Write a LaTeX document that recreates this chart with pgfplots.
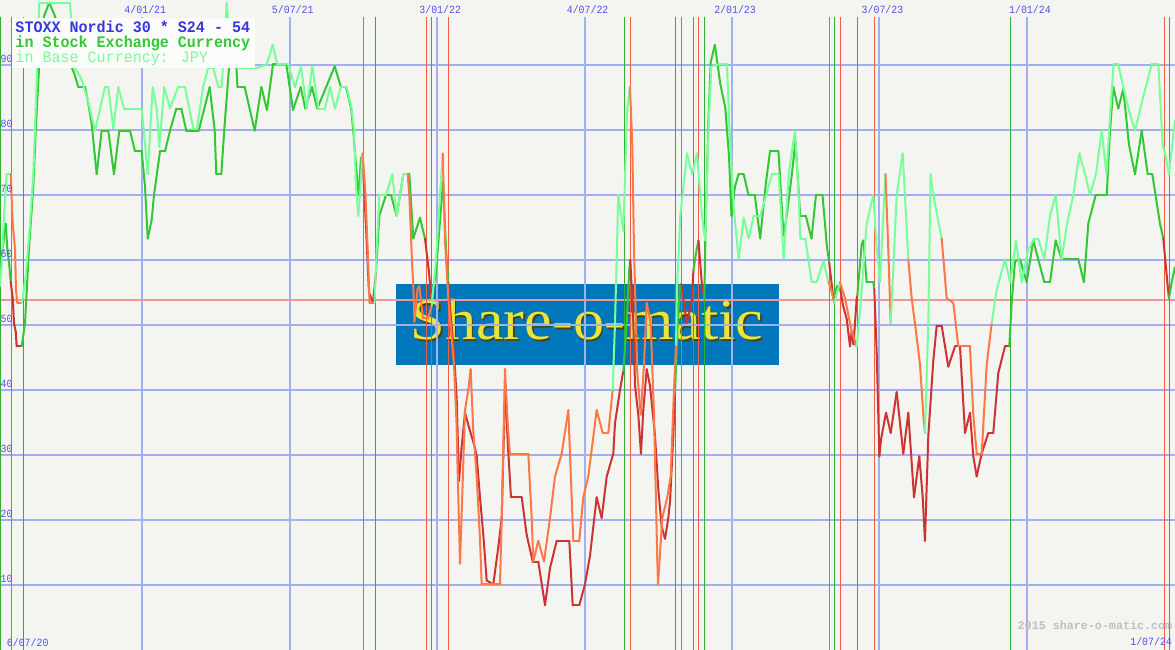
\documentclass[border=0pt]{standalone}
\usepackage{fontspec}
\setmainfont{Liberation Mono}
\newfontfamily\mono{Liberation Mono}
\newfontfamily\logofont{Liberation Serif}
\usepackage{pgfplots}
\usepackage{pgfplotstable}
\pgfplotsset{compat=1.18}
\definecolor{bg}{RGB}{244,245,241}
\definecolor{gridblue}{RGB}{160,176,240}
\definecolor{thresh}{RGB}{240,150,150}
\definecolor{siggreen}{RGB}{50,175,50}
\definecolor{sigred}{RGB}{240,95,65}
\definecolor{tickblue}{RGB}{80,80,240}
\definecolor{titleblue}{RGB}{55,55,225}
\definecolor{darkgr}{RGB}{51,200,51}
\definecolor{lightgr}{RGB}{119,255,153}
\definecolor{logobg}{RGB}{0,119,187}
\definecolor{logoyel}{RGB}{235,228,60}
\definecolor{logoshadow}{RGB}{70,70,20}
\definecolor{copygray}{RGB}{190,190,190}
\definecolor{titlebg}{RGB}{252,253,250}
\pgfplotsset{
  colormap={darkcm}{rgb255=(51,200,51) rgb255=(204,51,51)},
  colormap={lightcm}{rgb255=(119,255,153) rgb255=(255,119,68)}
}

% weekly data, x = weeks after 6/07/20, c = 1 while the series is in its sell (red) state
\pgfplotstableread{
w v c
0.91 58.5 0
1.39 61.7 0
1.92 65.6 0
2.20 61.7 0
2.55 59.2 0
2.80 56.6 1
3.15 54.1 1
3.38 50.3 1
3.68 49.0 1
3.85 46.7 1
4.74 46.7 0
5.32 50.3 0
6.02 61.7 0
6.78 71.3 0
7.26 80.9 0
7.79 89.5 0
8.67 97.5 0
9.60 99.6 0
10.61 97.5 0
11.84 93.0 0
12.90 91.0 0
13.96 88.8 0
14.72 86.6 0
15.90 86.6 0
16.48 84.1 0
17.08 80.9 0
17.96 73.2 0
18.84 79.9 0
20.01 79.9 0
21.01 73.2 0
21.95 79.9 0
23.83 79.9 0
24.72 76.7 0
25.90 76.7 0
26.48 71.3 0
26.96 63.3 0
27.66 66.2 0
28.07 70.0 0
29.12 76.7 0
30.01 76.7 0
30.89 79.9 0
32.00 83.3 0
32.88 83.3 0
33.76 79.9 0
35.95 79.9 0
37.89 86.6 0
38.77 79.9 0
39.05 73.2 0
39.93 73.2 0
40.53 80.9 0
41.29 89.5 0
41.82 93.5 0
42.35 93.5 0
42.79 86.6 0
44.06 86.6 0
45.82 79.9 0
46.99 86.6 0
47.99 83.1 0
49.05 90.1 0
51.40 90.1 0
52.58 83.1 0
53.94 86.6 0
54.75 83.3 0
55.93 86.6 0
56.86 83.3 0
59.93 89.8 0
61.04 86.6 0
61.92 86.6 0
62.81 83.4 0
63.21 79.9 0
63.69 74.5 0
64.16 70.0 0
64.57 75.8 0
64.92 74.5 1
65.45 65.0 1
65.98 55.0 1
66.68 53.5 1
67.21 58.0 0
67.80 66.8 0
68.98 70.0 0
69.86 70.0 0
70.86 66.8 0
72.03 73.2 0
73.09 73.2 0
73.79 63.3 0
74.97 66.5 0
75.85 63.3 1
76.51 58.5 1
77.00 54.0 0
77.79 58.0 0
78.50 66.0 0
79.03 72.0 0
79.56 62.0 0
79.96 56.6 1
80.39 51.5 1
80.97 45.8 1
81.44 38.8 1
81.85 26.0 1
82.29 31.0 1
82.91 36.5 1
83.79 33.7 1
84.67 31.1 1
84.97 29.8 1
85.55 23.5 1
86.14 17.7 1
86.73 10.7 1
87.90 10.1 1
88.78 15.8 1
89.38 20.3 1
89.96 39.7 1
90.54 30.5 1
91.02 23.5 1
92.91 23.5 1
93.79 17.7 1
94.85 13.6 1
95.83 13.6 1
97.02 6.9 1
97.90 12.6 1
99.08 16.8 1
101.30 16.8 1
101.90 6.9 1
103.06 6.9 1
104.07 10.1 1
104.95 14.5 1
106.13 23.5 1
107.01 20.3 1
107.90 26.7 1
109.06 30.2 1
109.36 34.9 1
110.24 40.0 1
110.82 42.9 0
111.42 50.3 0
111.88 58.5 0
112.06 60.0 1
112.59 50.3 1
112.89 40.7 1
113.47 36.2 1
113.94 30.2 1
114.35 36.9 1
114.95 43.2 1
115.53 40.7 1
116.41 33.0 1
117.00 24.7 1
117.59 19.0 1
118.18 17.1 1
118.76 20.3 1
119.06 22.8 1
119.64 33.0 1
119.94 39.4 0
120.35 49.0 0
120.82 56.0 0
121.05 56.3 1
122.00 50.3 1
122.88 53.4 1
123.20 58.5 0
123.77 61.7 0
124.08 63.0 1
124.65 56.6 1
125.11 54.1 0
125.32 64.3 0
125.81 80.9 0
126.24 90.4 0
126.96 93.1 0
127.91 87.2 0
128.81 83.4 0
129.46 76.0 0
129.90 66.8 0
130.52 71.3 0
131.14 73.2 0
132.05 73.2 0
132.90 70.0 0
134.01 70.0 0
134.96 63.3 0
135.99 72.0 0
136.69 76.7 0
138.19 76.7 0
139.07 63.8 0
139.64 66.8 0
140.52 73.0 0
141.19 78.3 0
142.02 66.8 0
143.01 66.8 0
144.01 63.3 0
144.80 70.0 0
145.95 70.0 0
146.74 62.0 0
147.15 59.5 1
147.85 54.1 1
148.03 54.5 0
148.51 56.0 0
149.09 55.5 1
149.57 53.0 1
150.22 50.9 1
150.80 46.7 1
151.10 49.0 1
151.42 47.0 1
151.98 54.1 1
152.09 54.5 0
152.86 62.4 0
153.14 63.0 0
153.74 56.6 0
154.91 56.6 0
155.08 55.5 1
155.51 45.8 1
155.97 29.8 1
156.27 32.4 1
157.15 36.5 1
157.98 33.4 1
159.03 39.7 1
160.20 30.2 1
161.08 36.5 1
162.09 23.5 1
163.02 29.8 1
163.62 23.5 1
164.02 16.8 1
164.61 33.0 1
165.49 44.5 1
166.09 49.9 1
166.97 49.9 1
168.13 43.6 1
169.32 46.7 1
170.20 46.7 1
171.08 33.4 1
171.96 36.5 1
172.54 29.8 1
173.14 26.7 1
174.02 30.2 1
175.19 33.4 1
176.07 33.4 1
176.95 42.6 1
178.13 46.7 1
178.89 46.7 0
179.31 53.4 0
179.90 59.8 0
180.78 60.1 0
181.96 56.6 0
183.12 63.0 0
185.06 56.6 0
186.07 56.6 0
187.07 63.0 0
188.13 60.1 0
191.06 60.1 0
192.06 56.6 0
192.82 65.6 0
194.13 70.0 0
196.07 70.0 0
196.65 79.9 0
197.23 86.6 0
198.11 83.3 0
198.99 86.3 0
200.00 77.7 0
201.06 73.2 0
202.24 79.9 0
203.30 73.2 0
204.11 73.2 0
205.46 65.6 0
206.05 63.3 1
206.82 56.0 1
207.05 54.1 0
207.53 56.6 0
208.11 58.9 0
}\darkdata

\pgfplotstableread{
w v c
0.91 56.0 0
1.26 60.0 0
1.62 66.8 0
2.09 73.2 0
2.80 73.2 1
3.15 65.6 1
3.56 61.7 1
3.73 55.4 1
3.96 53.4 1
4.74 53.4 0
4.91 54.1 0
5.49 57.9 0
6.20 65.6 0
6.78 73.2 0
7.38 87.2 0
7.84 99.6 0
13.25 99.6 0
14.14 89.5 0
15.19 88.0 0
16.43 84.5 0
17.66 79.9 0
19.43 86.6 0
20.01 86.6 0
20.89 80.2 0
21.77 86.6 0
22.78 83.3 0
25.90 83.3 0
26.96 73.2 0
27.84 86.6 0
28.54 83.4 0
29.00 77.4 0
29.88 86.6 0
30.89 83.3 0
32.30 86.6 0
33.53 86.6 0
35.00 80.2 0
35.65 80.2 0
36.71 86.6 0
37.59 89.5 0
38.52 89.5 0
39.41 86.6 0
40.00 86.6 0
40.89 99.6 0
41.47 93.6 0
42.00 90.0 0
43.23 89.5 0
46.18 89.5 0
47.94 90.1 0
48.99 93.1 0
49.81 90.1 0
51.75 90.1 0
52.93 86.6 0
53.99 89.8 0
54.99 83.3 0
55.98 89.8 0
57.04 83.3 0
58.22 83.3 0
59.10 86.6 0
59.98 83.3 0
60.99 86.6 0
62.05 86.6 0
62.93 83.3 0
63.33 79.9 0
63.69 71.3 0
64.09 66.8 0
64.39 70.0 0
64.83 76.4 1
65.10 73.5 1
65.36 70.0 1
65.75 61.7 1
66.07 53.4 1
66.95 53.4 0
67.34 61.7 0
67.80 70.0 0
68.98 70.0 0
70.09 73.2 0
70.86 66.8 0
72.03 73.2 0
72.80 73.2 1
73.09 70.0 1
73.56 59.8 1
73.79 56.0 1
74.00 50.5 1
74.53 55.5 1
74.85 56.0 1
75.50 51.0 1
76.38 51.0 1
77.04 53.0 0
77.79 60.0 0
78.50 70.0 0
78.98 76.4 1
79.38 63.0 1
79.96 54.1 1
80.97 43.9 1
81.41 35.0 1
81.73 23.5 1
82.03 13.3 1
82.47 25.0 1
82.91 36.9 1
83.49 40.0 1
83.91 43.2 1
84.37 33.7 1
84.97 26.7 1
85.55 17.1 1
85.85 10.1 1
89.08 10.1 1
89.38 20.3 1
89.96 43.2 1
90.49 34.0 1
90.84 30.2 1
94.07 30.2 1
94.67 20.3 1
94.95 13.6 1
95.83 16.8 1
96.84 13.6 1
97.90 20.3 1
98.78 26.7 1
99.96 30.2 1
101.13 36.9 1
101.72 23.5 1
102.01 16.8 1
103.06 16.8 1
103.77 23.5 1
104.65 26.7 1
106.13 36.9 1
107.19 33.4 1
108.18 33.4 1
108.95 40.0 0
109.36 50.3 0
109.94 70.0 0
110.82 64.5 0
111.53 83.4 0
112.00 86.6 1
112.41 77.7 1
112.71 61.7 1
113.29 42.6 1
113.89 36.2 1
114.47 43.9 1
114.95 53.4 1
115.65 50.3 1
116.24 36.2 1
116.82 13.9 1
116.94 10.1 1
117.70 20.3 1
118.58 23.5 1
119.18 26.7 1
119.76 40.0 1
120.12 47.0 0
120.29 55.4 0
120.87 66.8 0
122.06 76.4 0
122.94 73.2 0
123.82 76.4 0
124.70 66.8 0
125.28 63.0 0
125.88 80.9 0
126.34 89.8 0
127.64 90.1 0
129.11 90.1 0
129.51 80.9 0
130.29 68.1 0
131.17 60.1 0
132.05 66.5 0
132.93 63.3 0
133.82 66.8 0
134.98 66.8 0
137.04 73.2 0
138.23 73.2 0
139.11 60.1 0
139.99 73.2 0
141.10 79.9 0
141.75 70.0 0
142.04 63.3 0
142.92 63.3 0
144.04 56.6 0
144.93 56.6 0
146.12 59.8 0
147.01 56.6 1
147.62 55.0 1
148.03 53.4 0
149.04 56.6 1
149.92 54.1 1
151.10 49.0 1
151.98 46.7 0
152.74 54.0 0
153.74 65.6 0
154.91 70.0 0
155.51 61.7 0
156.09 56.6 0
156.62 66.0 0
157.06 73.2 1
157.55 61.7 1
157.98 50.3 0
159.03 70.0 0
160.09 76.4 0
161.08 60.1 1
161.68 54.1 1
162.44 49.0 1
163.14 43.9 1
163.73 36.2 1
164.02 33.4 0
164.61 50.3 0
165.00 73.2 0
165.49 70.0 0
166.97 63.3 1
167.85 54.1 1
169.02 53.4 1
169.90 46.7 1
171.96 46.7 1
172.54 36.2 1
173.14 30.2 1
174.02 30.2 1
174.91 43.9 1
175.79 50.3 0
176.67 55.4 0
178.13 60.1 0
179.02 56.6 0
180.07 63.0 0
181.08 56.6 0
182.19 61.5 0
183.30 63.3 0
184.00 63.3 0
185.06 60.1 0
186.07 66.8 0
187.07 70.0 0
188.13 60.1 0
189.07 65.6 0
190.18 70.0 0
191.24 76.4 0
192.24 73.2 0
193.12 70.0 0
194.18 73.2 0
195.18 79.9 0
196.03 73.2 0
196.65 82.0 0
197.27 90.1 0
198.11 90.1 0
198.99 86.6 0
200.00 83.0 0
201.06 79.9 0
202.47 85.0 0
204.00 90.1 0
205.17 90.1 0
205.94 77.7 0
206.35 76.4 0
207.05 73.2 0
208.11 81.5 0
}\lightdata

\tikzset{
  ticklab/.style={inner sep=0pt, text=tickblue, xscale=0.9, font=\mono\fontsize{11}{11}\selectfont},
  titlelab/.style={anchor=base west, inner sep=0pt, xscale=0.94, font=\mono\bfseries\fontsize{16}{16}\selectfont}
}

\begin{document}
\begin{tikzpicture}[x=1pt,y=1pt]
\path[use as bounding box] (0,0) rectangle (1175,650);
\fill[bg] (0,0) rectangle (1175,650);
\begin{axis}[at={(0,0)}, anchor=south west,
  width=1175pt, height=650pt, scale only axis,
  xmin=0.91, xmax=208.11, ymin=0, ymax=100,
  axis lines=none, no markers, clip=true]
% logo
\fill[logobg] (axis cs:70.74,43.85) rectangle (axis cs:138.28,56.31);
\node[anchor=base, text=logoshadow, xscale=1.075, font=\logofont\fontsize{58}{58}\selectfont] at (axis cs:104.72,47.45) {Share-o-matic};
\node[anchor=base, text=logoyel, xscale=1.075, font=\logofont\fontsize{58}{58}\selectfont] at (axis cs:104.42,47.7) {Share-o-matic};
% horizontal grid
\pgfplotsinvokeforeach{10,20,30,40,50,60,70,80,90}{
  \addplot[gridblue, line width=2pt] coordinates {(0.91,#1) (208.11,#1)};
}
% vertical grid
\pgfplotsinvokeforeach{26,52,78,104,130,156,182}{
  \addplot[gridblue, line width=2pt] coordinates {(#1,0) (#1,97.46)};
}
% threshold
\addplot[thresh, line width=2pt] coordinates {(0.91,53.8) (208.11,53.8)};
% signals
\pgfplotsinvokeforeach{1.03,5.02,67.16,77.04,111.00,120.00,123.20,125.11,148.03,152.09,179.07,207.10}{
  \addplot[siggreen, line width=1pt] coordinates {(#1,0) (#1,97.46)};
}
\pgfplotsinvokeforeach{2.97,64.98,76.12,79.96,112.06,121.05,124.08,147.15,149.09,155.08,206.22}{
  \addplot[sigred, line width=1pt] coordinates {(#1,0) (#1,97.46)};
}
% series
\addplot[mesh, shader=flat corner, colormap name=darkcm, point meta=explicit,
  point meta min=0, point meta max=1, line width=2pt, line cap=round]
  table[x=w, y=v, meta=c] {\darkdata};
\addplot[mesh, shader=flat corner, colormap name=lightcm, point meta=explicit,
  point meta min=0, point meta max=1, line width=2pt, line cap=round]
  table[x=w, y=v, meta=c] {\lightdata};
% tick labels
\pgfplotsinvokeforeach{10,20,30,40,50,60,70,80,90}{
  \node[ticklab, anchor=base west] at (axis cs:1.0,#1+0.43) {#1};
}
\node[ticklab, anchor=base] at (axis cs:26.53,97.95) {4/01/21};
\node[ticklab, anchor=base] at (axis cs:52.53,97.95) {5/07/21};
\node[ticklab, anchor=base] at (axis cs:78.53,97.95) {3/01/22};
\node[ticklab, anchor=base] at (axis cs:104.53,97.95) {4/07/22};
\node[ticklab, anchor=base] at (axis cs:130.53,97.95) {2/01/23};
\node[ticklab, anchor=base] at (axis cs:156.53,97.95) {3/07/23};
\node[ticklab, anchor=base] at (axis cs:182.53,97.95) {1/01/24};
\node[ticklab, anchor=base west] at (axis cs:2.1,0.49) {6/07/20};
\node[ticklab, anchor=base east] at (axis cs:207.6,0.66) {1/07/24};
\node[anchor=base east, inner sep=0pt, text=copygray, font=\mono\bfseries\fontsize{11.7}{11.7}\selectfont] at (axis cs:207.65,3.23) {2015 share-o-matic.com};
\end{axis}
% title box
\fill[titlebg] (11.7,581.6) rectangle (255,631.5);
\node[titlelab, text=titleblue] at (15.3,617.5) {STOXX Nordic 30 * S24 - 54};
\node[titlelab, text=darkgr] at (15.3,602.3) {in Stock Exchange Currency};
\node[titlelab, text=lightgr, font=\mono\fontsize{16}{16}\selectfont] at (15.3,587.0) {in Base Currency: JPY};
\end{tikzpicture}
\end{document}
